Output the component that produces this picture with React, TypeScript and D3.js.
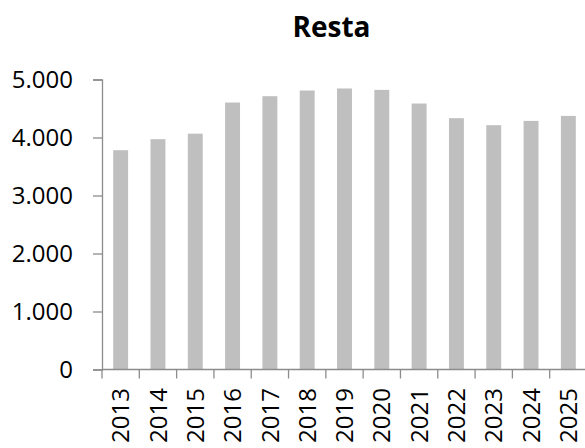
import { useEffect, useRef } from 'react';
import * as d3 from 'd3';

const years = ['2013', '2014', '2015', '2016', '2017', '2018', '2019', '2020', '2021', '2022', '2023', '2024', '2025'];
const values = [3781, 3971, 4066, 4603, 4712, 4810, 4845, 4821, 4586, 4333, 4212, 4286, 4372];
const yTicks = [0, 1000, 2000, 3000, 4000, 5000];
const title = 'Resta';

const locale = d3.formatLocale({ decimal: ',', thousands: '.', grouping: [3], currency: ['', ''] });
const fmt = locale.format(',d');

export default function App() {
  const svgRef = useRef<SVGSVGElement | null>(null);

  useEffect(() => {
    if (!svgRef.current) return;
    const svg = d3.select(svgRef.current);
    svg.selectAll('*').remove();

    const width = 585;
    const height = 448;
    const margin = { top: 79.5, left: 102, bottom: 369.5, right: 587 };
    const axisColor = '#8c8c8c';
    const font = '"Open Sans", sans-serif';

    const x = d3
      .scaleBand()
      .domain(years)
      .range([margin.left, margin.right])
      .paddingInner(0.6)
      .paddingOuter(0.3);

    const y = d3.scaleLinear().domain([0, 5000]).range([margin.bottom, margin.top]);

    svg.attr('width', width).attr('height', height);

    svg
      .append('text')
      .attr('x', 331.5)
      .attr('y', 37)
      .attr('text-anchor', 'middle')
      .style('font-family', font)
      .style('font-weight', 700)
      .style('font-size', '28px')
      .style('fill', '#000')
      .text(title);

    // bars
    svg
      .append('g')
      .selectAll('rect')
      .data(values)
      .join('rect')
      .attr('x', (_, i) => x(years[i])!)
      .attr('y', (d) => y(d))
      .attr('width', x.bandwidth())
      .attr('height', (d) => y(0) - y(d))
      .attr('fill', '#bfbfbf');

    // y axis
    const yAxis = svg
      .append('g')
      .attr('transform', `translate(${margin.left},0)`)
      .call(d3.axisLeft(y).tickValues(yTicks).tickSize(9).tickPadding(20).tickFormat((d) => fmt(d as number)));
    yAxis.select('.domain').attr('stroke', axisColor).attr('stroke-width', 1.3);
    yAxis.selectAll('.tick line').attr('stroke', axisColor).attr('stroke-width', 1.3);
    yAxis
      .selectAll('text')
      .style('font-family', font)
      .style('font-size', '24px')
      .style('fill', '#000');

    // x axis: baseline + ticks on category boundaries
    const step = x.step();
    const start = x.range()[0];
    const xg = svg.append('g');
    xg.append('line')
      .attr('x1', margin.left)
      .attr('x2', width)
      .attr('y1', y(0))
      .attr('y2', y(0))
      .attr('stroke', axisColor)
      .attr('stroke-width', 1.3);
    xg.selectAll('line.tick')
      .data(d3.range(years.length + 1))
      .join('line')
      .attr('class', 'tick')
      .attr('x1', (i) => start + i * step)
      .attr('x2', (i) => start + i * step)
      .attr('y1', y(0))
      .attr('y2', y(0) + 9)
      .attr('stroke', axisColor)
      .attr('stroke-width', 1.3);

    xg.selectAll('text')
      .data(years)
      .join('text')
      .attr('transform', (d) => `translate(${x(d)! + x.bandwidth() / 2},388) rotate(-90)`)
      .attr('text-anchor', 'end')
      .attr('dy', '0.36em')
      .style('font-family', font)
      .style('font-size', '24px')
      .style('fill', '#000')
      .text((d) => d);
  }, []);

  return <svg ref={svgRef} style={{ position: 'absolute', left: 0, top: 0, background: '#fff' }} />;
}
